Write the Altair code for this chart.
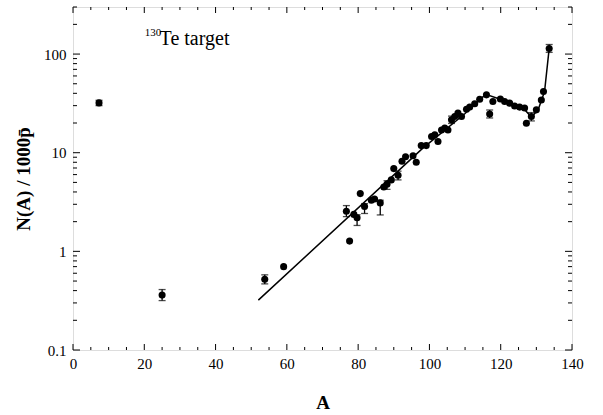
import altair as alt
import pandas as pd

# ---- data ----
A_vals = [7.3, 25.0, 53.8, 59.1, 76.7, 77.6, 78.8, 79.7, 80.6, 81.8, 83.7, 84.6,
          86.2, 87.2, 88.1, 89.3, 90.0, 91.2, 92.3, 93.3, 95.4, 96.3, 97.7, 99.1,
          100.6, 101.5, 102.4, 103.4, 104.3, 105.2, 106.2, 107.1, 108.0, 109.0,
          110.4, 111.3, 112.7, 114.1, 116.0, 116.9, 117.8, 119.9, 121.1, 122.5,
          123.9, 125.3, 126.7, 127.2, 128.6, 130.0, 131.4, 132.0, 133.6]
N_vals = [32, 0.36, 0.52, 0.70, 2.55, 1.27, 2.37, 2.19, 3.85, 2.85, 3.3, 3.4,
          3.1, 4.5, 4.8, 5.3, 6.9, 5.9, 8.2, 9.1, 9.3, 8.0, 11.8, 11.8,
          14.6, 15.2, 13.0, 17.0, 17.8, 17.0, 21.6, 23.3, 25.2, 23.3,
          27.6, 29, 31.3, 34.9, 38.6, 24.7, 33, 35, 33, 31.8,
          29.8, 29, 28.4, 19.9, 23.3, 27.2, 34.2, 41.7, 114]

err_A = [7.3, 25.0, 53.8, 76.7, 79.7, 81.8, 86.2, 88.1, 91.2, 106.2, 116.9, 128.6, 133.6]
err_lo = [30, 0.317, 0.468, 2.25, 1.83, 2.42, 2.34, 4.25, 5.3, 19.8, 22.5, 21.0, 104]
err_hi = [34, 0.41, 0.578, 2.91, 2.35, 3.05, 3.3, 5.2, 6.5, 23.5, 27.1, 25.5, 125]

curve_A = [52.0, 98.0, 110.0, 113.5, 115.8, 120.7, 126.3, 128.6, 130.5, 132.3, 133.6]
curve_N = [0.32, 11.0, 25.0, 33.0, 39.0, 34.0, 28.4, 23.0, 27.2, 41.7, 114.0]

x_major = [0, 20, 40, 60, 80, 100, 120, 140]
x_minor = [v for v in range(0, 141, 5) if v % 20 != 0]
y_major = [0.1, 1, 10, 100]
y_minor = [m * d for d in [0.1, 1, 10, 100] for m in range(2, 10) if m * d <= 300]

label_main = "Te target"
label_sup = "130"

# ---- layout ----
W, H = 499, 343
FONT = "'Liberation Serif', 'Times New Roman', 'DejaVu Serif', serif"

pts = pd.DataFrame({"A": A_vals, "N": N_vals})
errs = pd.DataFrame({"A": err_A, "lo": err_lo, "hi": err_hi})
curve = pd.DataFrame({"A": curve_A, "N": curve_N})

xs = alt.Scale(domain=[0, 140], nice=False, zero=False)
ys = alt.Scale(type="log", domain=[0.1, 300], nice=False)

X = alt.X("A:Q", scale=xs,
          axis=alt.Axis(values=x_major, title="A", ticks=False, domain=False, grid=False,
                        labelFont=FONT, labelFontSize=15, labelColor="black", labelPadding=6,
                        titleFont=FONT, titleFontSize=19, titleFontWeight="bold",
                        titleColor="black", titlePadding=22, labelFlush=False))
Y = alt.Y("N:Q", scale=ys,
          axis=alt.Axis(values=y_major, title="N(A) / 1000p\u0304", format="~g", ticks=False,
                        domain=False, grid=False, labelFont=FONT, labelFontSize=15,
                        labelColor="black", labelPadding=7, titleFont=FONT, titleFontSize=19,
                        titleFontWeight="bold", titleColor="black", titlePadding=10,
                        labelFlush=False))

line = alt.Chart(curve).mark_line(color="black", strokeWidth=1.5).encode(x=X, y=Y)
points = alt.Chart(pts).mark_point(filled=True, shape="circle", size=50, color="black",
                                   opacity=1).encode(x=alt.X("A:Q", scale=xs), y=alt.Y("N:Q", scale=ys))
ebar = alt.Chart(errs).mark_rule(color="black", strokeWidth=1.3).encode(
    x=alt.X("A:Q", scale=xs), y=alt.Y("lo:Q", scale=ys), y2="hi:Q")
cap_lo = alt.Chart(errs).mark_tick(color="black", size=7, thickness=1.3, orient="horizontal").encode(
    x=alt.X("A:Q", scale=xs), y=alt.Y("lo:Q", scale=ys))
cap_hi = alt.Chart(errs).mark_tick(color="black", size=7, thickness=1.3, orient="horizontal").encode(
    x=alt.X("A:Q", scale=xs), y=alt.Y("hi:Q", scale=ys))

def xticks(vals, L):
    d = pd.DataFrame({"A": vals})
    bot = alt.Chart(d).mark_rule(color="black", strokeWidth=1).encode(
        x=alt.X("A:Q", scale=xs), y=alt.value(H), y2=alt.value(H - L))
    top = alt.Chart(d).mark_rule(color="black", strokeWidth=1).encode(
        x=alt.X("A:Q", scale=xs), y=alt.value(0), y2=alt.value(L))
    return bot + top

def yticks(vals, L):
    d = pd.DataFrame({"N": vals})
    left = alt.Chart(d).mark_rule(color="black", strokeWidth=1).encode(
        y=alt.Y("N:Q", scale=ys), x=alt.value(0), x2=alt.value(L))
    right = alt.Chart(d).mark_rule(color="black", strokeWidth=1).encode(
        y=alt.Y("N:Q", scale=ys), x=alt.value(W), x2=alt.value(W - L))
    return left + right

txt_main = alt.Chart(pd.DataFrame({"A": [24.3], "N": [124], "t": [label_main]})).mark_text(
    font=FONT, fontSize=20, align="left", baseline="alphabetic", color="black").encode(
    x=alt.X("A:Q", scale=xs), y=alt.Y("N:Q", scale=ys), text="t:N")
txt_sup = alt.Chart(pd.DataFrame({"A": [20.1], "N": [153], "t": [label_sup]})).mark_text(
    font=FONT, fontSize=11, align="left", baseline="alphabetic", color="black").encode(
    x=alt.X("A:Q", scale=xs), y=alt.Y("N:Q", scale=ys), text="t:N")

chart = alt.layer(
    line, xticks(x_major, 6), xticks(x_minor, 3), yticks(y_major, 7), yticks(y_minor, 4),
    ebar, cap_lo, cap_hi, points, txt_main, txt_sup
).properties(
    width=W, height=H,
    autosize=alt.AutoSizeParams(type="none"),
    padding={"left": 73, "top": 7, "right": 31, "bottom": 65},
).configure_view(stroke="black", strokeWidth=1.3).configure(background="white")

chart.save("out.html", embed_options={"renderer": "svg", "actions": False})
